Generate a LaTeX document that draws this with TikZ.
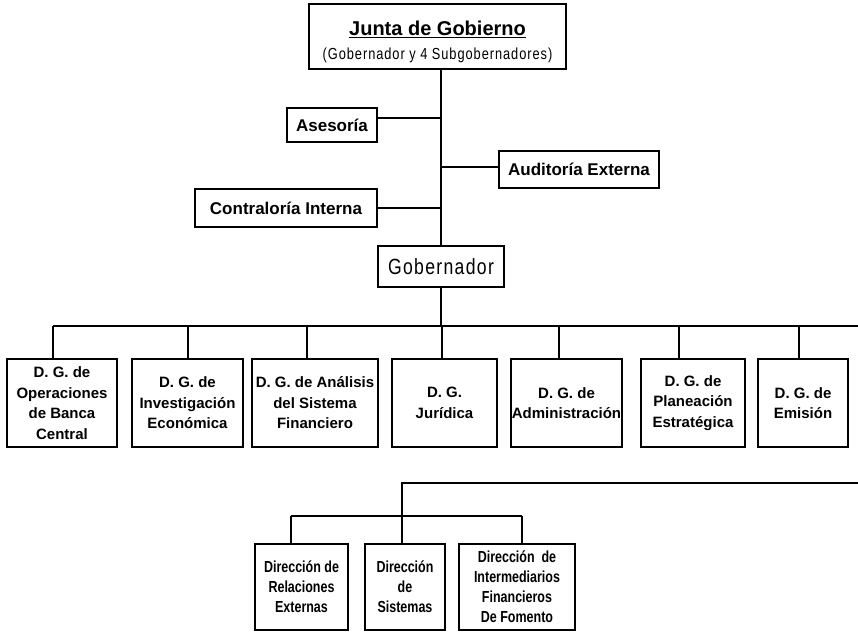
\documentclass[tikz,border=0pt]{standalone}
\usepackage{fontspec}
\setmainfont{Liberation Sans}
\newfontfamily\narrowfont[FakeStretch=0.8,LetterSpace=6]{Liberation Sans}
\newfontfamily\condfont[FakeStretch=0.78]{Liberation Sans}

\tikzset{
  box/.style={draw, line width=2.2pt, inner sep=0pt, align=center},
  topbox/.style={box, font=\fontsize{17}{20}\selectfont\bfseries},
  dgbox/.style={box, minimum height=88pt, font=\fontsize{15}{20.5}\selectfont\bfseries},
  dirbox/.style={box, minimum height=86pt, font=\condfont\fontsize{16}{20}\selectfont\bfseries},
  link/.style={line width=2.2pt},
}

\begin{document}
\begin{tikzpicture}[x=1pt,y=-1pt]
            \useasboundingbox (0,0) rectangle (858,632);

            % Junta de Gobierno and its staff offices
            \node [box, minimum width=257pt, minimum height=65pt] (junta) at (437.5,36.5) {};
            \node [font=\fontsize{20}{22}\selectfont\bfseries] (juntatitle) at (437.5,29.5) {\underline{Junta de Gobierno}};
            \node [font=\narrowfont\fontsize{16}{18}\selectfont] (juntasub) at (437.5,55.5) {(Gobernador y 4 Subgobernadores)};

            \node [topbox, minimum width=90pt, minimum height=34pt] (asesoria) at (332,125) {Asesoría};
            \node [topbox, minimum width=160pt, minimum height=37pt] (auditoria) at (579,169.5) {Auditoría Externa};
            \node [topbox, minimum width=182pt, minimum height=38pt] (contraloria) at (286,208) {Contraloría Interna};

            \node [box, minimum width=126pt, minimum height=41pt, font=\narrowfont\fontsize{22}{24}\selectfont] (gob) at (441,266.5) {Gobernador};

            \draw [link] (junta.south -| gob.north) -- (gob.north);
            \coordinate (ase) at ([yshift=7pt]asesoria.east);
            \draw [link] (ase) -- (ase -| gob.north);
            \coordinate (aud) at ([yshift=2.5pt]auditoria.west);
            \draw [link] (aud) -- (aud -| gob.north);
            \draw [link] (contraloria.east) -- (contraloria.east -| gob.north);

            % Direcciones Generales
            \coordinate (busL) at (53,326);
            \coordinate (busR) at (858,326);
            \draw [link] (busL) -- (busR);
            \draw [link] (gob.south) -- (gob.south |- busL);

            \foreach \n/\cx/\w/\dx/\txt in {
            d1/62/110/-9/{D. G. de\\Operaciones\\de Banca\\Central},
            d2/187.5/111/0.5/{D. G. de\\Investigación\\Económica},
            d3/315/126/-8/{D. G. de Análisis\\del Sistema\\Financiero},
            d4/444.5/105/-2.5/{D. G.\\Jurídica},
            d5/566.5/111/-7.5/{D. G. de\\Administración},
            d6/693/104/-14/{D. G. de\\Planeación\\Estratégica},
            d7/803/90/-4/{D. G. de\\Emisión}} {
            \node [dgbox, minimum width=\w pt] (\n) at (\cx,403) {\txt};
            \coordinate (t\n) at ([xshift=\dx pt]\n.north);
            \draw [link] (t\n) -- (t\n |- busL);
            }

            % Direcciones
            \coordinate (lowR) at (858,483);
            \coordinate (lowL) at (402,483);
            \coordinate (dirbusL) at (291,516);
            \coordinate (dirbusR) at (522,516);
            \draw [link] (lowR) -- (lowL) -- (lowL |- dirbusL);
            \draw [link] (dirbusL) -- (dirbusR);

            \foreach \n/\cx/\w/\dx/\txt in {
            dirA/301.5/93/-10.5/{Dirección de\\Relaciones\\Externas},
            dirB/405/80/-3/{Dirección\\de\\Sistemas},
            dirC/517/116/5/{Dirección\ \ de\\Intermediarios\\Financieros\\De Fomento}} {
            \node [dirbox, minimum width=\w pt] (\n) at (\cx,587) {\txt};
            \coordinate (t\n) at ([xshift=\dx pt]\n.north);
            \draw [link] (t\n) -- (t\n |- dirbusL);
            }
\end{tikzpicture}
\end{document}
